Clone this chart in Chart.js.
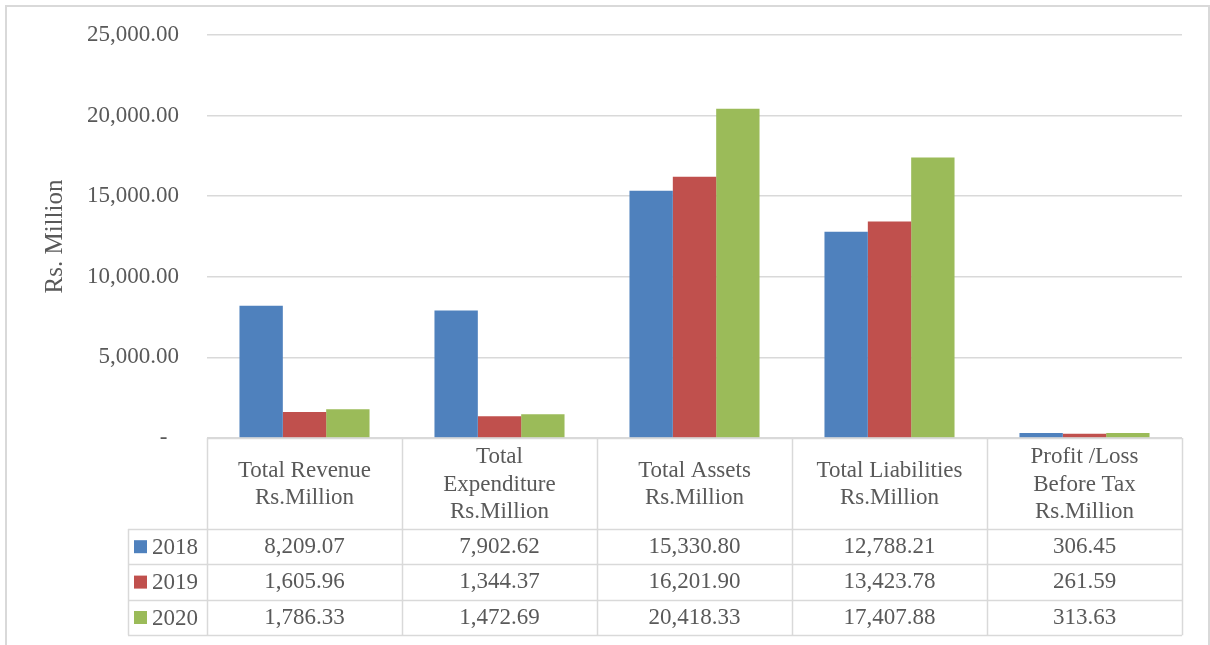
<!DOCTYPE html>
<html>
<head>
<meta charset="utf-8">
<script src="https://cdn.jsdelivr.net/npm/chart.js@4/dist/chart.umd.min.js"></script>
<style>
  html, body { margin: 0; background: #fff; }
</style>
</head>
<body>
<canvas id="chart" width="1210" height="645"></canvas>
<script>
// data
const categories = [
  ['Total Revenue', 'Rs.Million'],
  ['Total', 'Expenditure', 'Rs.Million'],
  ['Total Assets', 'Rs.Million'],
  ['Total Liabilities', 'Rs.Million'],
  ['Profit /Loss', 'Before Tax', 'Rs.Million']
];
const years = ['2018', '2019', '2020'];
const values2018 = [8209.07, 7902.62, 15330.80, 12788.21, 306.45];
const values2019 = [1605.96, 1344.37, 16201.90, 13423.78, 261.59];
const values2020 = [1786.33, 1472.69, 20418.33, 17407.88, 313.63];
const yTicks = [0, 5000, 10000, 15000, 20000, 25000];

const colors = ['#4f81bd', '#c0504d', '#9bbb59'];
const serif = "'Liberation Serif', 'Times New Roman', serif";
const textColor = '#595959';
const lineColor = '#d9d9d9';

const fmt = v => v.toLocaleString('en-US', { minimumFractionDigits: 2, maximumFractionDigits: 2 });

// data table under the plot, laid out on the x scale
const dataTable = {
  id: 'dataTable',
  afterDraw(chart) {
    const ctx = chart.ctx;
    const area = chart.chartArea;
    const xs = chart.scales.x;
    const colW = (area.right - area.left) / categories.length;
    const top = area.bottom;
    const headH = 91;
    const rowH = 35.4;
    const legendLeft = 128;
    const rows = [values2018, values2019, values2020];
    const bottom = top + headH + rowH * rows.length;

    ctx.save();
    ctx.strokeStyle = lineColor;
    ctx.lineWidth = 1.5;

    // horizontal lines
    ctx.beginPath();
    ctx.moveTo(area.left, top + 0.5);
    ctx.lineTo(area.right, top + 0.5);
    for (let r = 0; r <= rows.length; r++) {
      const y = Math.round(top + headH + r * rowH) + 0.5;
      ctx.moveTo(legendLeft, y);
      ctx.lineTo(area.right, y);
    }
    // vertical lines
    for (let i = 0; i <= categories.length; i++) {
      const x = Math.round(area.left + i * colW) + 0.5;
      ctx.moveTo(x, top);
      ctx.lineTo(x, bottom);
    }
    ctx.moveTo(legendLeft + 0.5, top + headH);
    ctx.lineTo(legendLeft + 0.5, bottom);
    ctx.stroke();

    ctx.fillStyle = textColor;
    ctx.font = '23px ' + serif;
    ctx.textAlign = 'center';
    ctx.textBaseline = 'middle';

    // header
    const lh = 27.5;
    categories.forEach((lines, i) => {
      const cx = xs.getPixelForValue(i);
      const cy = top + headH / 2 + 1;
      lines.forEach((t, k) => {
        ctx.fillText(t, cx, cy + (k - (lines.length - 1) / 2) * lh);
      });
    });

    // values + legend keys
    rows.forEach((vals, r) => {
      const cy = top + headH + r * rowH + rowH / 2;
      ctx.textAlign = 'center';
      ctx.fillStyle = textColor;
      vals.forEach((v, i) => {
        ctx.fillText(fmt(v), xs.getPixelForValue(i), cy);
      });
      ctx.fillStyle = colors[r];
      ctx.fillRect(134, cy - 6.5, 13, 13);
      ctx.fillStyle = textColor;
      ctx.textAlign = 'left';
      ctx.fillText(years[r], 152, cy + 1);
    });

    // outer frame
    ctx.strokeStyle = lineColor;
    ctx.lineWidth = 2;
    ctx.beginPath();
    ctx.moveTo(6, chart.height);
    ctx.lineTo(6, 6);
    ctx.lineTo(1209, 6);
    ctx.lineTo(1209, chart.height);
    ctx.stroke();
    ctx.restore();
  }
};

new Chart(document.getElementById('chart'), {
  type: 'bar',
  data: {
    labels: categories,
    datasets: years.map((y, i) => ({
      label: y,
      data: [values2018, values2019, values2020][i],
      backgroundColor: colors[i],
      borderWidth: 0,
      categoryPercentage: 0.667,
      barPercentage: 1
    }))
  },
  options: {
    responsive: false,
    animation: false,
    layout: { padding: { left: 0, top: 35, right: 28, bottom: 207 } },
    plugins: { legend: { display: false }, tooltip: { enabled: false } },
    scales: {
      x: { display: false },
      y: {
        min: 0,
        max: 25000,
        afterBuildTicks: s => { s.ticks = yTicks.map(v => ({ value: v })); },
        afterFit: s => {
          s.width = 207;
          s.paddingTop = 0;
          s.paddingBottom = 0;
        },
        border: { display: false },
        grid: { color: lineColor, lineWidth: 1.5, drawTicks: false },
        ticks: {
          padding: 28,
          color: textColor,
          font: { family: serif, size: 23 },
          callback: v => (v === 0 ? '-  ' : fmt(v))
        },
        title: {
          display: true,
          text: 'Rs. Million',
          color: textColor,
          font: { family: serif, size: 25 },
          padding: { top: 40, bottom: 0 }
        }
      }
    }
  },
  plugins: [dataTable]
});
</script>
</body>
</html>
